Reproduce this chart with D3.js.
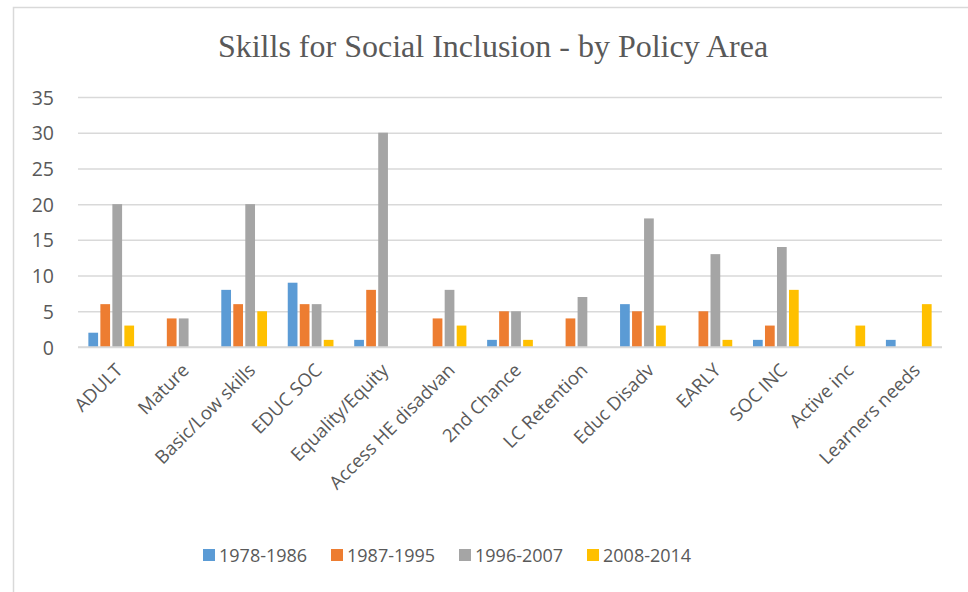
<!DOCTYPE html>
<html>
<head>
<meta charset="utf-8">
<script src="https://cdn.jsdelivr.net/npm/d3@7"></script>
<style>
  html, body { margin: 0; padding: 0; background: #fff; }
  svg { display: block; }
</style>
</head>
<body>
<svg id="chart" width="968" height="592"></svg>
<script>
const categories = ["ADULT", "Mature", "Basic/Low skills", "EDUC SOC", "Equality/Equity",
  "Access HE disadvan", "2nd Chance", "LC Retention", "Educ Disadv", "EARLY",
  "SOC INC", "Active inc", "Learners needs"];
const seriesNames = ["1978-1986", "1987-1995", "1996-2007", "2008-2014"];
const s1978 = [2, 0, 8, 9, 1, 0, 1, 0, 6, 0, 1, 0, 1];
const s1987 = [6, 4, 6, 6, 8, 4, 5, 4, 5, 5, 3, 0, 0];
const s1996 = [20, 4, 20, 6, 30, 8, 5, 7, 18, 13, 14, 0, 0];
const s2008 = [3, 0, 5, 1, 0, 3, 1, 0, 3, 1, 8, 3, 6];
const yTicks = [0, 5, 10, 15, 20, 25, 30, 35];
const colors = ["#5B9BD5", "#ED7D31", "#A5A5A5", "#FFC000"];
const titleText = "Skills for Social Inclusion - by Policy Area";

const seriesValues = [s1978, s1987, s1996, s2008];
const svg = d3.select("#chart");
const textColor = "#595959";
const gridColor = "#d9d9d9";
const sansFont = "'Open Sans', 'Noto Sans', sans-serif";

// chart border
svg.append("rect").attr("x", 13.5).attr("y", 7.5).attr("width", 980).attr("height", 600)
  .attr("fill", "#fff").attr("stroke", gridColor).attr("stroke-width", 1.5);

const plotL = 78, plotR = 942, plotT = 97, plotB = 347;

const x0 = d3.scaleBand().domain(categories).range([plotL, plotR]).paddingInner(0).paddingOuter(0);
const x1 = d3.scaleBand().domain(seriesNames).range([0, x0.bandwidth()])
  .paddingInner(0.19).paddingOuter(0.864);
const y = d3.scaleLinear().domain([0, 35]).range([plotB, plotT]);

// gridlines
const yAxis = d3.axisLeft(y).tickValues(yTicks).tickSize(-(plotR - plotL)).tickPadding(24);
const gy = svg.append("g").attr("transform", `translate(${plotL},0)`).call(yAxis);
gy.select(".domain").remove();
gy.selectAll(".tick line").attr("stroke", gridColor).attr("stroke-width", 1.5);
gy.selectAll(".tick text").attr("fill", textColor).attr("font-family", sansFont)
  .attr("font-size", 19.5).attr("dy", "0.36em");

// bars
const groups = svg.append("g").selectAll("g").data(categories).join("g")
  .attr("transform", d => `translate(${x0(d)},0)`);
groups.selectAll("rect")
  .data((c, i) => seriesNames.map((s, j) => ({ s, j, v: seriesValues[j][i] })))
  .join("rect")
  .attr("x", d => x1(d.s))
  .attr("width", x1.bandwidth())
  .attr("y", d => y(d.v))
  .attr("height", d => y(0) - y(d.v))
  .attr("fill", d => colors[d.j]);

// axis baseline
svg.append("line").attr("x1", plotL).attr("x2", plotR).attr("y1", plotB).attr("y2", plotB)
  .attr("stroke", gridColor).attr("stroke-width", 1.5);

// x labels
const xAxis = d3.axisBottom(x0).tickSize(0).tickPadding(0);
const gx = svg.append("g").attr("transform", `translate(0,${plotB})`).call(xAxis);
gx.select(".domain").remove();
gx.selectAll(".tick text")
  .attr("fill", textColor).attr("font-family", sansFont).attr("font-size", 18.5)
  .attr("text-anchor", "end")
  .attr("transform", "translate(3,15) rotate(-45)")
  .attr("x", 0).attr("y", 0).attr("dy", "0.72em");

// title
svg.append("text").attr("x", 493).attr("y", 57).attr("text-anchor", "middle")
  .attr("font-family", "'Liberation Serif', 'Times New Roman', serif")
  .attr("font-size", 32).attr("fill", textColor).text(titleText);

// legend
const legendX = [203, 331, 459, 587];
const lg = svg.append("g").selectAll("g").data(seriesNames).join("g")
  .attr("transform", (d, i) => `translate(${legendX[i]},549)`);
lg.append("rect").attr("width", 12).attr("height", 12).attr("fill", (d, i) => colors[i]);
lg.append("text").attr("x", 16).attr("y", 13).attr("fill", textColor)
  .attr("font-family", sansFont).attr("font-size", 18).text(d => d);
</script>
</body>
</html>
